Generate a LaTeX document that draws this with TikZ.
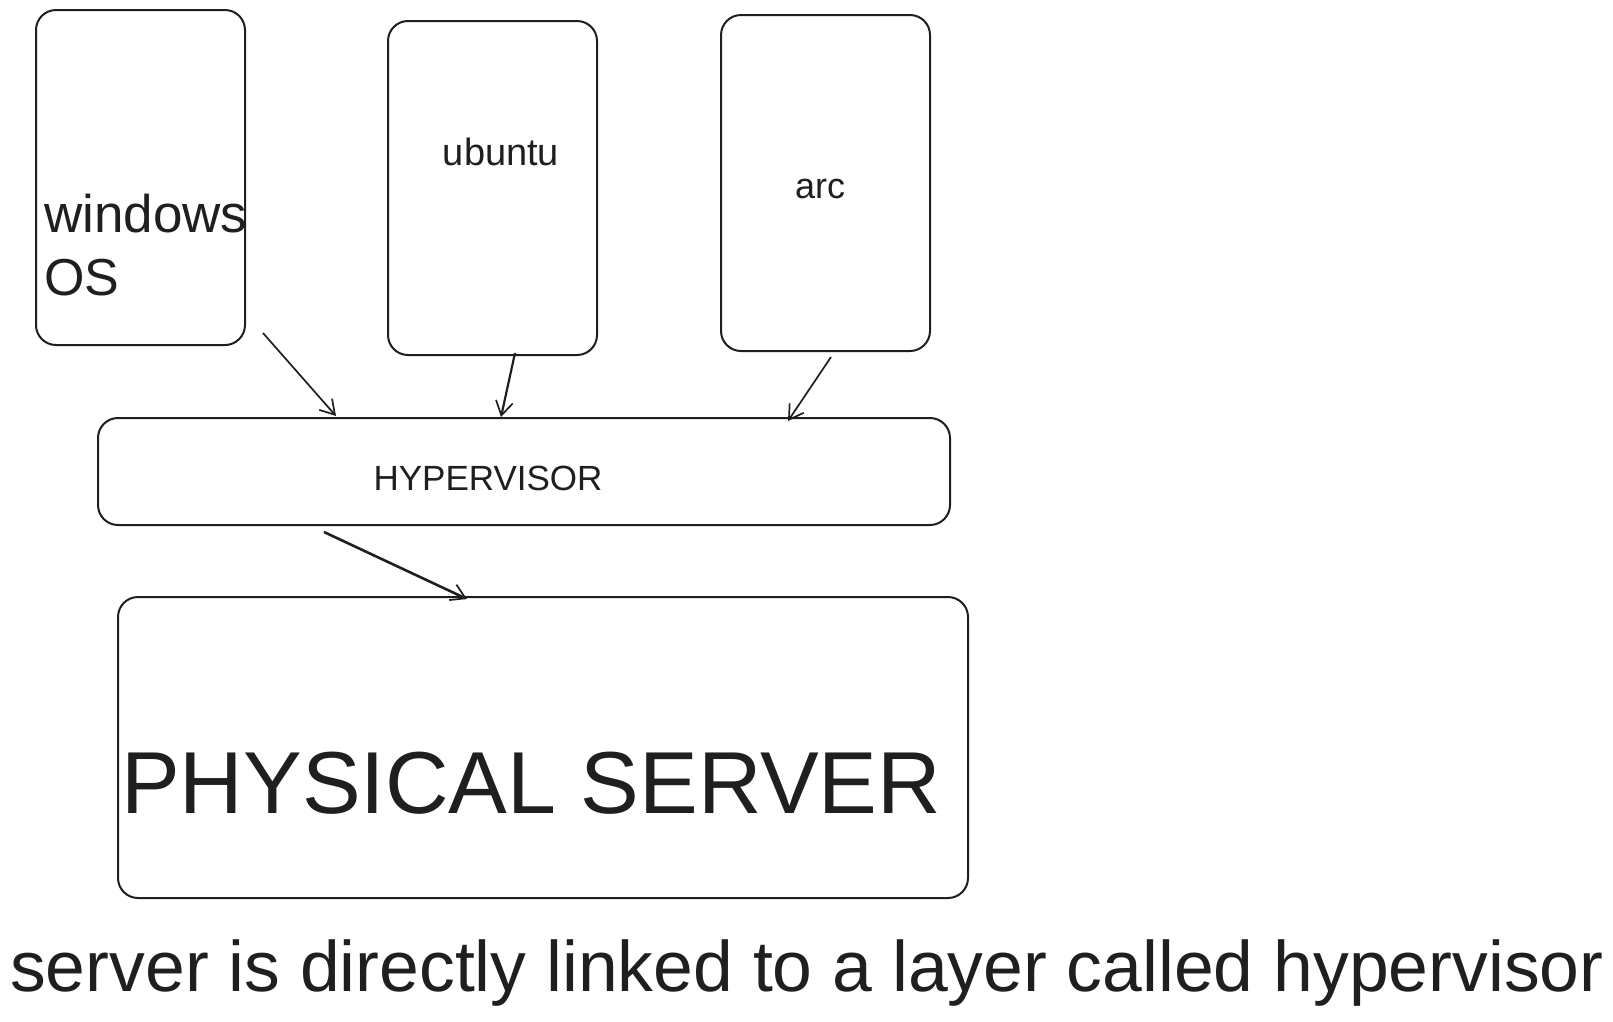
\documentclass[tikz,border=0pt]{standalone}
\usepackage{fontspec}
\setmainfont{Liberation Sans}
\usetikzlibrary{arrows.meta,fit,calc}
\begin{document}
\begin{tikzpicture}[x=1pt,y=-1pt,
  box/.style={draw=black!88, line width=2pt, rounded corners=20pt, inner sep=0pt},
  arr/.style={draw=black!88, line width=1.7pt, -{Straight Barb[length=14pt,width=17pt,line width=1.7pt]}},
  lbl/.style={inner sep=0pt, text=black!88}]
\useasboundingbox[fill=white] (0,0) rectangle (1613,1021);
\node[box, fit={(36,10) (245,345)}] (win) {};
\node[box, fit={(388,21) (597,355)}] (ubu) {};
\node[box, fit={(721,15) (930,351)}] (arc) {};
\node[box, fit={(98,418) (950,525)}] (hyp) {};
\node[box, fit={(118,597) (968,898)}] (srv) {};

\node[lbl, anchor=base west, font=\fontsize{53}{60}\selectfont] (twin) at (44,232) {windows};
\node[lbl, anchor=base west, font=\fontsize{52}{60}\selectfont] (tos) at (44,295) {OS};
\node[lbl, anchor=base, font=\fontsize{38}{44}\selectfont] (tubu) at (501,165) {ubuntu};
\node[lbl, anchor=base, font=\fontsize{36}{42}\selectfont] (tarc) at (820,198) {arc};
\node[lbl, anchor=base, font=\fontsize{35}{40}\selectfont] (thyp) at (488,490) {HYPERVISOR};
\node[lbl, anchor=base west, font=\fontsize{88}{94}\selectfont] (tsrv) at (121,813) {PHYSICAL SERVER};
\node[lbl, anchor=base west, font=\fontsize{71.5}{80}\selectfont] (tcap) at (10,991) {server is directly linked to a layer called hypervisor};

\draw[arr] ([shift={(17,-13)}]win.south east) -- ([shift={(239,-1)}]hyp.north west);
\draw[arr, line width=2.2pt] ([shift={(128,-3)}]ubu.south west) -- ([shift={(404,0)}]hyp.north west);
\draw[arr] ([shift={(111,5)}]arc.south west) -- ([shift={(691,4)}]hyp.north west);
\draw[arr, line width=2.6pt] ([shift={(227,6)}]hyp.south west) -- ([shift={(350,3)}]srv.north west);
\end{tikzpicture}
\end{document}
